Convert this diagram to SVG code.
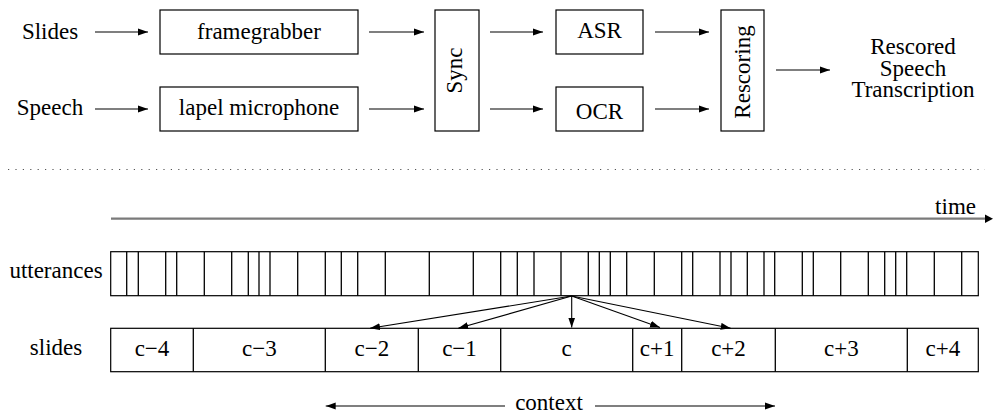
<svg xmlns="http://www.w3.org/2000/svg" width="993" height="414" viewBox="0 0 993 414" font-family="'Liberation Serif', Tinos, 'Times New Roman', Times, 'DejaVu Serif', serif">
<defs>
<style>
text{font-family:"Liberation Serif",Tinos,"Times New Roman",Times,"DejaVu Serif",serif;font-size:23px;fill:#000}
.c{text-anchor:middle}
.box{fill:#fff;stroke:#000;stroke-width:1.2}
.ar{stroke:#000;stroke-width:1.1;fill:none;marker-end:url(#ah)}
.tk{stroke:#000;stroke-width:1.3}
</style>
<marker id="ah" markerUnits="userSpaceOnUse" markerWidth="10" markerHeight="8" refX="10" refY="4" orient="auto">
<path d="M0,0.5 L10,4 L0,7.5 z" fill="#000"/>
</marker>
</defs>
<rect width="993" height="414" fill="#fff"/>

<g id="input-slides"><text class="c" x="50" y="38.5">Slides</text></g>
<g id="input-speech"><text class="c" x="50" y="115">Speech</text></g>
<g id="framegrabber"><rect class="box" x="160" y="10" width="198" height="44"/><text class="c" x="259" y="38.5">framegrabber</text></g>
<g id="lapel-microphone"><rect class="box" x="160" y="87" width="198" height="44"/><text class="c" x="259" y="115">lapel microphone</text></g>
<g id="sync"><rect class="box" x="435" y="10" width="44" height="121"/><text class="c" transform="translate(462,70.5) rotate(-90)">Sync</text></g>
<g id="asr"><rect class="box" x="556" y="10" width="87" height="44"/><text class="c" x="599.5" y="38">ASR</text></g>
<g id="ocr"><rect class="box" x="556" y="87" width="87" height="44"/><text class="c" x="599.5" y="119">OCR</text></g>
<g id="rescoring"><rect class="box" x="721" y="10" width="43" height="121"/><text class="c" transform="translate(749.5,72) rotate(-90)">Rescoring</text></g>
<g id="output"><text class="c" x="913" y="53.5">Rescored</text><text class="c" x="913" y="75.5">Speech</text><text class="c" x="913" y="97">Transcription</text></g>

<g id="separator"><line x1="8" y1="169.5" x2="985" y2="169.5" stroke="#555" stroke-width="1.2" stroke-dasharray="1.2 6.2"/></g>

<g id="time-axis">
<line x1="111" y1="218.7" x2="985" y2="218.7" stroke="#7a7a7a" stroke-width="2.2"/>
<path d="M985,214.5 L993,218.7 L985,222.9 z" fill="#000"/>
<text x="976" y="214.3" text-anchor="end">time</text>
</g>

<g id="utterances">
<text class="c" x="56" y="278.3">utterances</text>
<rect class="box" x="110.7" y="251.7" width="867.6" height="44"/>
<g class="tk">
<line x1="126.7" y1="251.7" x2="126.7" y2="295.7"/>
<line x1="138.3" y1="251.7" x2="138.3" y2="295.7"/>
<line x1="165.7" y1="251.7" x2="165.7" y2="295.7"/>
<line x1="176.7" y1="251.7" x2="176.7" y2="295.7"/>
<line x1="204.3" y1="251.7" x2="204.3" y2="295.7"/>
<line x1="231.7" y1="251.7" x2="231.7" y2="295.7"/>
<line x1="248.3" y1="251.7" x2="248.3" y2="295.7"/>
<line x1="259" y1="251.7" x2="259" y2="295.7"/>
<line x1="270" y1="251.7" x2="270" y2="295.7"/>
<line x1="297.7" y1="251.7" x2="297.7" y2="295.7"/>
<line x1="325.3" y1="251.7" x2="325.3" y2="295.7"/>
<line x1="341.3" y1="251.7" x2="341.3" y2="295.7"/>
<line x1="357.7" y1="251.7" x2="357.7" y2="295.7"/>
<line x1="385.3" y1="251.7" x2="385.3" y2="295.7"/>
<line x1="429.3" y1="251.7" x2="429.3" y2="295.7"/>
<line x1="473.3" y1="251.7" x2="473.3" y2="295.7"/>
<line x1="500.7" y1="251.7" x2="500.7" y2="295.7"/>
<line x1="517.3" y1="251.7" x2="517.3" y2="295.7"/>
<line x1="534" y1="251.7" x2="534" y2="295.7"/>
<line x1="561" y1="251.7" x2="561" y2="295.7"/>
<line x1="588.3" y1="251.7" x2="588.3" y2="295.7"/>
<line x1="599.3" y1="251.7" x2="599.3" y2="295.7"/>
<line x1="610.3" y1="251.7" x2="610.3" y2="295.7"/>
<line x1="626.7" y1="251.7" x2="626.7" y2="295.7"/>
<line x1="654.3" y1="251.7" x2="654.3" y2="295.7"/>
<line x1="681.7" y1="251.7" x2="681.7" y2="295.7"/>
<line x1="692.7" y1="251.7" x2="692.7" y2="295.7"/>
<line x1="720" y1="251.7" x2="720" y2="295.7"/>
<line x1="731" y1="251.7" x2="731" y2="295.7"/>
<line x1="747.3" y1="251.7" x2="747.3" y2="295.7"/>
<line x1="764" y1="251.7" x2="764" y2="295.7"/>
<line x1="774.7" y1="251.7" x2="774.7" y2="295.7"/>
<line x1="802.3" y1="251.7" x2="802.3" y2="295.7"/>
<line x1="813.3" y1="251.7" x2="813.3" y2="295.7"/>
<line x1="840.7" y1="251.7" x2="840.7" y2="295.7"/>
<line x1="868.3" y1="251.7" x2="868.3" y2="295.7"/>
<line x1="884.7" y1="251.7" x2="884.7" y2="295.7"/>
<line x1="895.7" y1="251.7" x2="895.7" y2="295.7"/>
<line x1="906.7" y1="251.7" x2="906.7" y2="295.7"/>
<line x1="934.3" y1="251.7" x2="934.3" y2="295.7"/>
<line x1="961.7" y1="251.7" x2="961.7" y2="295.7"/>
</g>
</g>

<g id="slides-row">
<text class="c" x="56" y="355">slides</text>
<rect class="box" x="110.7" y="328.3" width="867.6" height="43.4"/>
<g class="tk">
<line x1="193.3" y1="328.3" x2="193.3" y2="371.7"/>
<line x1="325.3" y1="328.3" x2="325.3" y2="371.7"/>
<line x1="418.3" y1="328.3" x2="418.3" y2="371.7"/>
<line x1="500.7" y1="328.3" x2="500.7" y2="371.7"/>
<line x1="632.7" y1="328.3" x2="632.7" y2="371.7"/>
<line x1="681.7" y1="328.3" x2="681.7" y2="371.7"/>
<line x1="775.3" y1="328.3" x2="775.3" y2="371.7"/>
<line x1="907.3" y1="328.3" x2="907.3" y2="371.7"/>
</g>
<text class="c" x="152" y="355.7">c−4</text>
<text class="c" x="259.3" y="355.7">c−3</text>
<text class="c" x="371.8" y="355.7">c−2</text>
<text class="c" x="459.5" y="355.7">c−1</text>
<text class="c" x="566.7" y="355.7">c</text>
<text class="c" x="657.2" y="355.7">c+1</text>
<text class="c" x="728.5" y="355.7">c+2</text>
<text class="c" x="841.3" y="355.7">c+3</text>
<text class="c" x="942.8" y="355.7">c+4</text>
</g>

<g id="context"><text class="c" x="549" y="410">context</text></g>

<g id="connectors">
<line class="ar" x1="95" y1="32" x2="148" y2="32"/>
<line class="ar" x1="95" y1="109" x2="148" y2="109"/>
<line class="ar" x1="369" y1="32" x2="424" y2="32"/>
<line class="ar" x1="369" y1="109" x2="424" y2="109"/>
<line class="ar" x1="490" y1="32" x2="543" y2="32"/>
<line class="ar" x1="490" y1="109" x2="543" y2="109"/>
<line class="ar" x1="655" y1="32" x2="709" y2="32"/>
<line class="ar" x1="655" y1="109" x2="709" y2="109"/>
<line class="ar" x1="776" y1="70" x2="830" y2="70"/>
<line class="ar" x1="571.7" y1="296" x2="370" y2="328.3"/>
<line class="ar" x1="571.7" y1="296" x2="458.3" y2="328.3"/>
<line class="ar" x1="571.7" y1="296" x2="571.7" y2="327.5"/>
<line class="ar" x1="571.7" y1="296" x2="660" y2="327.5"/>
<line class="ar" x1="571.7" y1="296" x2="730.7" y2="328.3"/>
<line class="ar" x1="505" y1="406" x2="325.7" y2="406"/>
<line class="ar" x1="595" y1="406" x2="775" y2="406"/>
</g>
</svg>
